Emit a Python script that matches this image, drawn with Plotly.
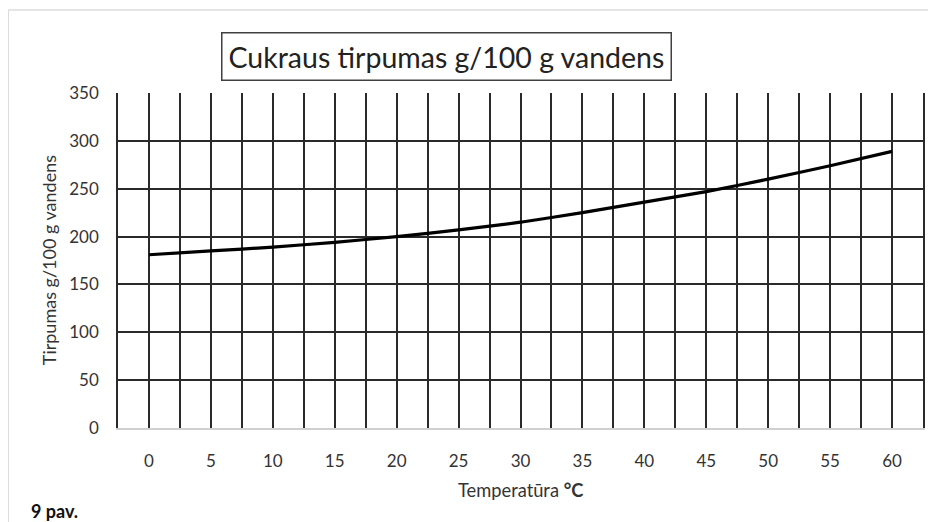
import plotly.graph_objects as go

temperature = [0, 5, 10, 15, 20, 25, 30, 35, 40, 45, 50, 55, 60]
solubility = [181, 185, 189, 194, 200, 207, 215, 225, 236, 247, 260, 274, 289]

chart_title = "Cukraus tirpumas g/100 g vandens"
x_title = "Temperatūra <b>°C</b>"
y_title = "Tirpumas g/100 g vandens"
fig_label = "<b>9 pav.</b>"

FONT = "Lato"
TXT = "#333333"
GRID = "#2a2a2a"

fig = go.Figure()
fig.add_trace(go.Scatter(
    x=temperature, y=solubility, mode="lines",
    line=dict(color="black", width=3.2, shape="spline", smoothing=0.6),
    showlegend=False, hoverinfo="skip",
))

# page has an 8px body margin, so figure coordinates = screen - 8
OFF = 8
W, H = 936 - OFF, 522 - OFF
L, R, T, B = 118 - OFF, W - (925 - OFF), 93 - OFF, H - (428 - OFF)
pw, ph = W - L - R, H - T - B

def px(x):
    return (x - OFF - L) / pw

def py(y):
    return (H - B - (y - OFF)) / ph

fig.update_layout(
    width=W, height=H,
    margin=dict(l=L, r=R, t=T, b=B, pad=0),
    paper_bgcolor="white", plot_bgcolor="white",
    font=dict(family=FONT, color=TXT, size=17),
    xaxis=dict(
        range=[-2.5, 62.5], tick0=0, dtick=5,
        showgrid=True, gridcolor=GRID, gridwidth=1.6,
        minor=dict(dtick=2.5, tick0=0, showgrid=True, gridcolor=GRID, gridwidth=1.6),
        showline=True, linecolor="#d0d0d0", linewidth=1.5,
        zeroline=False, ticks="", ticklabelstandoff=17,
        tickfont=dict(family=FONT, size=17, color=TXT),
    ),
    yaxis=dict(
        range=[0, 350], tick0=0, dtick=50,
        showgrid=True, gridcolor=GRID, gridwidth=1.6,
        showline=True, mirror=True, linecolor=GRID, linewidth=1.6,
        zeroline=False, ticks="", ticklabelstandoff=14,
        tickfont=dict(family=FONT, size=17, color=TXT),
    ),
    shapes=[
        dict(type="line", xref="paper", yref="paper",
             x0=px(8), x1=px(940), y0=py(10), y1=py(10),
             line=dict(color="#dcdcdc", width=1.5), layer="below"),
        dict(type="line", xref="paper", yref="paper",
             x0=px(8), x1=px(8), y0=py(10), y1=py(530),
             line=dict(color="#dcdcdc", width=1.5), layer="below"),
    ],
    annotations=[
        dict(text=chart_title, xref="paper", yref="paper",
             x=px(447), y=py(56), xanchor="center", yanchor="middle",
             showarrow=False, font=dict(family=FONT, size=28.5, color="#222222"),
             bordercolor="#404040", borderwidth=1.5, borderpad=6, bgcolor="white"),
        dict(text=y_title, xref="paper", yref="paper",
             x=px(49), y=py(260), xanchor="center", yanchor="middle",
             textangle=-90, showarrow=False, font=dict(family=FONT, size=18, color=TXT)),
        dict(text=x_title, xref="paper", yref="paper",
             x=px(521), y=py(490), xanchor="center", yanchor="middle",
             showarrow=False, font=dict(family=FONT, size=18.3, color=TXT)),
        dict(text=fig_label, xref="paper", yref="paper",
             x=px(29), y=py(511), xanchor="left", yanchor="middle",
             showarrow=False, font=dict(family=FONT, size=18, color="#111111")),
    ],
)

fig.write_html("out.html")
